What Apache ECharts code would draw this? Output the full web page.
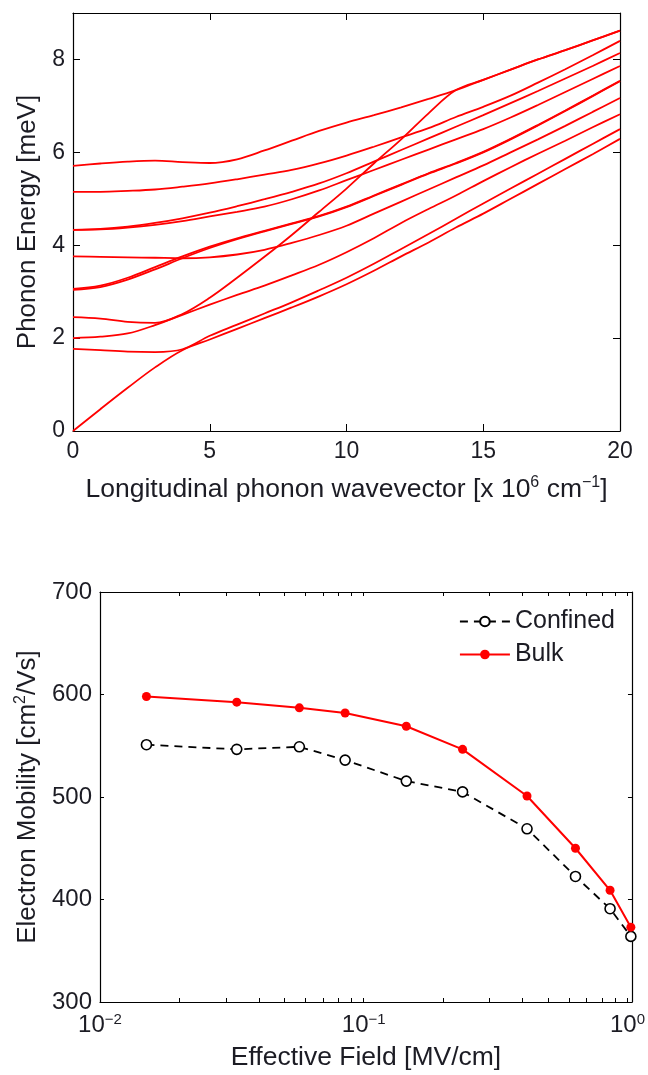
<!DOCTYPE html>
<html>
<head>
<meta charset="utf-8">
<script src="https://cdn.jsdelivr.net/npm/echarts@6/dist/echarts.min.js"></script>
<style>
  html, body { margin: 0; padding: 0; background: #fff; }
  #chart { width: 648px; height: 1075px; }
</style>
</head>
<body>
<div id="chart"></div>
<script>
// top panel: phonon dispersion, one array per branch (meV), sampled at waveK
const waveK = [0, 1, 2, 3, 4, 5, 6, 7, 8, 9, 10, 11, 12, 13, 14, 15, 16, 17, 18, 19, 20]
const bandA = [5.71, 5.76, 5.80, 5.82, 5.79, 5.77, 5.85, 6.04, 6.25, 6.46, 6.64, 6.80, 6.97, 7.15, 7.34, 7.56, 7.78, 8.00, 8.20, 8.41, 8.62]
const bandB = [5.15, 5.15, 5.17, 5.20, 5.26, 5.33, 5.42, 5.52, 5.62, 5.76, 5.93, 6.12, 6.32, 6.52, 6.76, 6.98, 7.22, 7.50, 7.79, 8.09, 8.40]
const bandC = [4.33, 4.35, 4.40, 4.48, 4.58, 4.70, 4.84, 4.99, 5.15, 5.33, 5.55, 5.80, 6.05, 6.30, 6.55, 6.80, 7.06, 7.32, 7.59, 7.86, 8.14]
const bandD = [4.33, 4.34, 4.38, 4.44, 4.52, 4.62, 4.72, 4.83, 4.99, 5.18, 5.40, 5.62, 5.84, 6.06, 6.28, 6.50, 6.75, 7.02, 7.30, 7.58, 7.86]
const bandE = [3.76, 3.75, 3.74, 3.73, 3.72, 3.74, 3.80, 3.90, 4.05, 4.22, 4.42, 4.68, 4.94, 5.20, 5.46, 5.72, 6.00, 6.28, 6.57, 6.87, 7.17]
const bandF = [3.04, 3.10, 3.26, 3.48, 3.72, 3.94, 4.13, 4.30, 4.46, 4.62, 4.82, 5.06, 5.30, 5.54, 5.76, 6.00, 6.28, 6.58, 6.89, 7.21, 7.53]
const bandG = [3.06, 3.13, 3.30, 3.53, 3.76, 3.97, 4.15, 4.31, 4.47, 4.63, 4.83, 5.07, 5.31, 5.55, 5.77, 6.01, 6.29, 6.59, 6.90, 7.22, 7.54]
const bandH = [2.45, 2.42, 2.35, 2.33, 2.52, 2.87, 3.30, 3.75, 4.22, 4.72, 5.22, 5.76, 6.28, 6.84, 7.34, 7.56, 7.78, 8.00, 8.20, 8.41, 8.62]
const bandI = [2.00, 2.03, 2.10, 2.28, 2.50, 2.72, 2.93, 3.13, 3.35, 3.58, 3.85, 4.15, 4.48, 4.78, 5.07, 5.38, 5.68, 5.97, 6.25, 6.54, 6.82]
const bandJ = [1.77, 1.74, 1.71, 1.70, 1.76, 2.05, 2.29, 2.53, 2.77, 3.03, 3.30, 3.60, 3.92, 4.24, 4.57, 4.90, 5.22, 5.54, 5.86, 6.18, 6.50]
const bandK = [0.00, 0.47, 0.93, 1.37, 1.74, 1.97, 2.20, 2.43, 2.66, 2.90, 3.16, 3.45, 3.76, 4.06, 4.38, 4.68, 5.00, 5.32, 5.64, 5.96, 6.29]
const energyTicks = [0, 2, 4, 6, 8]

// bottom panel: mobility vs effective field
const fieldMV = [0.015, 0.033, 0.057, 0.085, 0.145, 0.237, 0.416, 0.635, 0.859, 1.03]
const confined = [551, 546.5, 549, 536, 515.5, 505, 469, 422.5, 391, 364]
const bulk = [598, 592.5, 587, 582, 569, 546.5, 501, 450, 409, 373]
const decadeLabels = [0.01, 0.1, 1]
const logTicks = [0.01, 0.02, 0.03, 0.04, 0.05, 0.06, 0.07, 0.08, 0.09,
  0.1, 0.2, 0.3, 0.4, 0.5, 0.6, 0.7, 0.8, 0.9, 1]

const FONT = '"Liberation Sans", Arial, Helvetica, sans-serif'
const INK = '#1c1c24'

const richText = (size) => ({
  t: { fontSize: size, color: INK, fontFamily: FONT },
  s: { fontSize: Math.round(size * 0.62), color: INK, fontFamily: FONT, padding: [0, 0, Math.round(size * 0.5), 0] }
})

// box axis: line + inward ticks, labels only on the main side
const boxAxis = (opts) => {
  const { showLabel, tickLen, ...rest } = opts
  return {
    axisLine: { show: true, onZero: false, lineStyle: { color: '#000', width: 1.2 } },
    axisTick: { show: true, inside: true, length: tickLen, lineStyle: { color: '#000', width: 1 } },
    axisLabel: { show: showLabel },
    splitLine: { show: false },
    ...rest
  }
}

const phononSeries = [bandA, bandB, bandC, bandD, bandE, bandF, bandG, bandH, bandI, bandJ, bandK].map((band, idx) => ({
  name: 'band' + idx,
  type: 'line',
  xAxisIndex: 0,
  yAxisIndex: 0,
  data: waveK.map((k, i) => [k, band[i]]),
  showSymbol: false,
  symbol: 'none',
  smooth: 0.35,
  lineStyle: { color: '#ff0000', width: 1.8 },
  silent: true
}))

const logLabel = (v) => {
  const e = Math.round(Math.log10(v))
  return '{t|10}{s|' + (e < 0 ? '\u2212' + (-e) : e) + '}'
}

const option = {
  animation: false,
  backgroundColor: '#fff',
  grid: [
    { left: 73, top: 13, width: 547, height: 418 },
    { left: 100, top: 592, width: 532, height: 410 }
  ],
  legend: {
    data: ['Confined', 'Bulk'],
    orient: 'vertical',
    right: 28,
    top: 604,
    itemWidth: 50,
    itemHeight: 12,
    itemGap: 8,
    textStyle: { fontSize: 25, color: INK, fontFamily: FONT }
  },
  xAxis: [
    boxAxis({
      gridIndex: 0, type: 'value', min: 0, max: 20, interval: 5, position: 'bottom',
      showLabel: true, tickLen: 7,
      axisLabel: { show: true, fontSize: 23, color: INK, fontFamily: FONT, margin: 9 },
      name: '{t|Longitudinal phonon wavevector [x 10}{s|6}{t| cm}{s|\u22121}{t|]}',
      nameLocation: 'middle', nameGap: 44,
      nameTextStyle: { rich: richText(26.5) }
    }),
    boxAxis({ gridIndex: 0, type: 'value', min: 0, max: 20, interval: 5, position: 'top', showLabel: false, tickLen: 7 }),
    boxAxis({
      gridIndex: 1, type: 'log', logBase: 10, min: 0.01, max: 1.04, position: 'bottom',
      showLabel: true, tickLen: 4,
      axisTick: { show: true, inside: true, length: 4, customValues: logTicks, lineStyle: { color: '#000' } },
      axisLabel: { show: true, customValues: decadeLabels, formatter: logLabel, margin: 10, rich: richText(24) },
      name: 'Effective Field [MV/cm]',
      nameLocation: 'middle', nameGap: 42,
      nameTextStyle: { fontSize: 26.5, color: INK, fontFamily: FONT }
    }),
    boxAxis({
      gridIndex: 1, type: 'log', logBase: 10, min: 0.01, max: 1.04, position: 'top', showLabel: false, tickLen: 4,
      axisTick: { show: true, inside: true, length: 4, customValues: logTicks, lineStyle: { color: '#000' } }
    })
  ],
  yAxis: [
    boxAxis({
      gridIndex: 0, type: 'value', min: 0, max: 9, interval: 2, position: 'left',
      showLabel: true, tickLen: 7,
      axisTick: { show: true, inside: true, length: 7, customValues: energyTicks, lineStyle: { color: '#000' } },
      axisLabel: { show: true, customValues: energyTicks, fontSize: 23, color: INK, fontFamily: FONT, margin: 8 },
      name: 'Phonon Energy [meV]',
      nameLocation: 'middle', nameGap: 30,
      nameTextStyle: { fontSize: 26, color: INK, fontFamily: FONT }
    }),
    boxAxis({
      gridIndex: 0, type: 'value', min: 0, max: 9, interval: 2, position: 'right', showLabel: false, tickLen: 7,
      axisTick: { show: true, inside: true, length: 7, customValues: energyTicks, lineStyle: { color: '#000' } }
    }),
    boxAxis({
      gridIndex: 1, type: 'value', min: 300, max: 700, interval: 100, position: 'left',
      showLabel: true, tickLen: 4,
      axisLabel: { show: true, fontSize: 24, color: INK, fontFamily: FONT, margin: 8 },
      name: '{t|Electron Mobility [cm}{s|2}{t|/Vs]}',
      nameLocation: 'middle', nameGap: 58,
      nameTextStyle: { rich: richText(26) }
    }),
    boxAxis({ gridIndex: 1, type: 'value', min: 300, max: 700, interval: 100, position: 'right', showLabel: false, tickLen: 4 })
  ],
  series: [
    ...phononSeries,
    {
      name: 'Confined',
      type: 'line',
      xAxisIndex: 2,
      yAxisIndex: 2,
      data: fieldMV.map((f, i) => [f, confined[i]]),
      symbol: 'circle',
      symbolSize: 10,
      itemStyle: { color: '#fff', borderColor: '#000', borderWidth: 1.6 },
      lineStyle: { color: '#000', width: 1.8, type: [8, 6] }
    },
    {
      name: 'Bulk',
      type: 'line',
      xAxisIndex: 2,
      yAxisIndex: 2,
      data: fieldMV.map((f, i) => [f, bulk[i]]),
      symbol: 'circle',
      symbolSize: 9,
      itemStyle: { color: '#ff0000' },
      lineStyle: { color: '#ff0000', width: 2 }
    }
  ]
}

const chart = echarts.init(document.getElementById('chart'), null, { renderer: 'canvas' })
chart.setOption(option)
</script>
</body>
</html>
